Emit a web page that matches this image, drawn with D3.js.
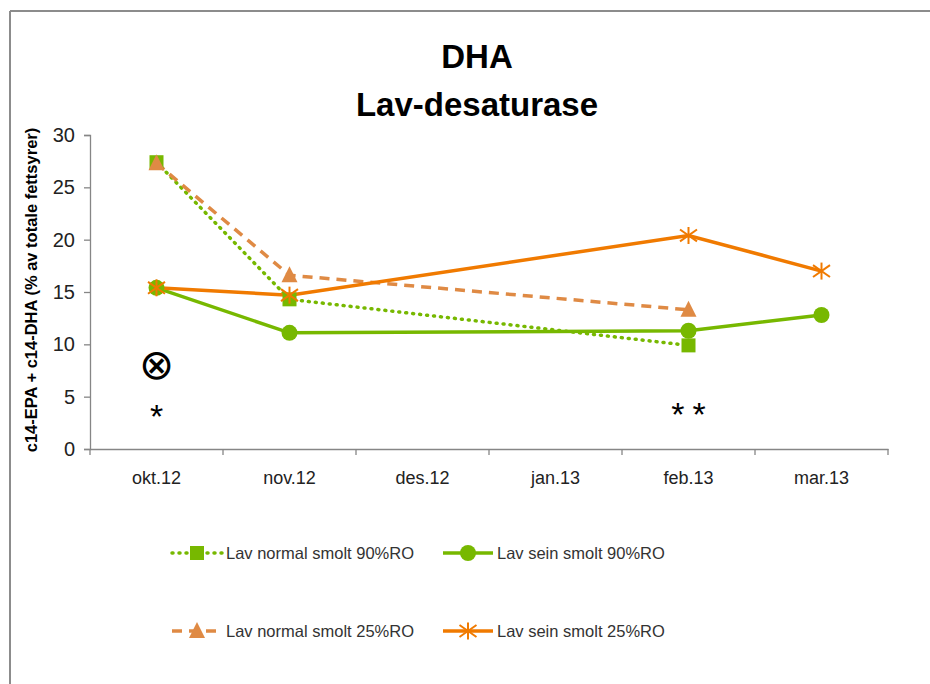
<!DOCTYPE html>
<html>
<head>
<meta charset="utf-8">
<script src="https://cdn.jsdelivr.net/npm/d3@7"></script>
<style>
  body { margin: 0; background: #fff; }
  svg { display: block; }
  text { font-family: "Liberation Sans", Arial, sans-serif; }
</style>
</head>
<body>
<div id="chart"></div>
<script>
// chart values
var months = ["okt.12", "nov.12", "des.12", "jan.13", "feb.13", "mar.13"];
var yTicks = [0, 5, 10, 15, 20, 25, 30];
var normal90 = [27.4, 14.3, null, null, 9.9, null];
var sein90 = [15.4, 11.1, null, null, 11.3, 12.8];
var normal25 = [27.3, 16.6, null, null, 13.3, null];
var sein25 = [15.4, 14.7, null, null, 20.4, 17.0];
var seriesNames = ["Lav normal smolt 90%RO", "Lav sein smolt 90%RO",
                   "Lav normal smolt 25%RO", "Lav sein smolt 25%RO"];

var green = "#77b800", orange = "#f07a00", orangeLight = "#df8a44";

var series = [
  {name: seriesNames[0], values: normal90, color: green, dash: "1,6", width: 3.5, marker: "square"},
  {name: seriesNames[1], values: sein90, color: green, dash: null, width: 3.5, marker: "circle"},
  {name: seriesNames[2], values: normal25, color: orangeLight, dash: "10,7", width: 3.5, marker: "triangle"},
  {name: seriesNames[3], values: sein25, color: orange, dash: null, width: 3.5, marker: "star"}
];

var svg = d3.select("#chart").append("svg")
  .attr("width", 930)
  .attr("height", 684);

// outer frame (only top and left edges visible in the picture)
svg.append("line").attr("x1", 10).attr("y1", 11).attr("x2", 930).attr("y2", 11)
  .style("stroke", "#8c8c8c").style("stroke-width", 2);
svg.append("line").attr("x1", 10).attr("y1", 11).attr("x2", 10).attr("y2", 684)
  .style("stroke", "#8c8c8c").style("stroke-width", 2);

var x = d3.scaleBand().domain(months).range([90, 888]);
var y = d3.scaleLinear().domain([0, 30]).range([449, 135]);

// title
svg.append("text").attr("x", 477).attr("y", 68).attr("text-anchor", "middle")
  .style("font-size", "33px").style("font-weight", "bold").text("DHA");
svg.append("text").attr("x", 477).attr("y", 116).attr("text-anchor", "middle")
  .style("font-size", "33px").style("font-weight", "bold").text("Lav-desaturase");

// axes
var yAxis = svg.append("g").attr("transform", "translate(90,0)")
  .call(d3.axisLeft(y).tickValues(yTicks).tickSize(6).tickPadding(9));
var xAxis = svg.append("g").attr("transform", "translate(0,449)")
  .call(d3.axisBottom(x).tickSize(0).tickPadding(22));

// x ticks sit on band edges, not centres
xAxis.selectAll(".edge").data(months.concat(["end"])).enter().append("line")
  .attr("class", "edge")
  .attr("x1", function(d, i) { return 90 + i * x.step(); })
  .attr("x2", function(d, i) { return 90 + i * x.step(); })
  .attr("y1", 0).attr("y2", 6);

svg.selectAll(".domain, .tick line, .edge").style("stroke", "#868686").style("stroke-width", 1.3);
svg.selectAll(".tick text").style("font-size", "18px").style("fill", "#222")
  .style("font-family", "'Liberation Sans', sans-serif");
yAxis.selectAll(".tick text").style("font-size", "20px");

// y axis title
svg.append("text")
  .attr("transform", "translate(37,290) rotate(-90)")
  .attr("text-anchor", "middle")
  .style("font-size", "16.5px").style("font-weight", "bold")
  .text("c14-EPA + c14-DHA (% av totale fettsyrer)");

function cx(i) { return x(months[i]) + x.bandwidth() / 2; }

// lines: gaps are skipped, so connect only the defined points
series.forEach(function(s) {
  var pts = s.values.map(function(v, i) { return {v: v, i: i}; })
    .filter(function(d) { return d.v != null; });
  svg.append("path")
    .datum(pts)
    .attr("d", d3.line().x(function(d) { return cx(d.i); }).y(function(d) { return y(d.v); }))
    .style("fill", "none")
    .style("stroke", s.color)
    .style("stroke-width", s.width)
    .style("stroke-dasharray", s.dash)
    .style("stroke-linecap", s.dash === "1,6" ? "round" : "butt");
});

function drawMarker(g, type, color, px, py) {
  if (type === "square") {
    g.append("rect").attr("x", px - 7).attr("y", py - 7).attr("width", 14).attr("height", 14)
      .style("fill", color);
  } else if (type === "circle") {
    g.append("circle").attr("cx", px).attr("cy", py).attr("r", 8).style("fill", color);
  } else if (type === "triangle") {
    g.append("path")
      .attr("d", "M" + px + "," + (py - 9) + "L" + (px + 8) + "," + (py + 7) + "L" + (px - 8) + "," + (py + 7) + "Z")
      .style("fill", color);
  } else if (type === "star") {
    var r = 8.5;
    var segs = [[0, -r, 0, r], [-r, -r * 0.7, r, r * 0.7], [-r, r * 0.7, r, -r * 0.7]];
    segs.forEach(function(sg) {
      g.append("line").attr("x1", px + sg[0]).attr("y1", py + sg[1])
        .attr("x2", px + sg[2]).attr("y2", py + sg[3])
        .style("stroke", color).style("stroke-width", 2);
    });
  }
}

series.forEach(function(s) {
  var g = svg.append("g");
  s.values.forEach(function(v, i) {
    if (v != null) drawMarker(g, s.marker, s.color, cx(i), y(v));
  });
});

// significance annotations
svg.append("text").attr("x", cx(0)).attr("y", 379).attr("text-anchor", "middle")
  .style("font-size", "42px").style("font-family", "'DejaVu Sans', sans-serif").text("\u2297");
svg.append("text").attr("x", cx(0)).attr("y", 428).attr("text-anchor", "middle")
  .style("font-size", "34px").text("*");
svg.append("text").attr("x", cx(4) + 4).attr("y", 426).attr("text-anchor", "middle")
  .style("font-size", "34px").style("letter-spacing", "8px").text("**");

// legend
var legendPos = [[172, 553], [443, 553], [172, 631], [443, 631]];
series.forEach(function(s, i) {
  var lx = legendPos[i][0], ly = legendPos[i][1];
  var g = svg.append("g");
  g.append("line").attr("x1", lx).attr("x2", lx + 50).attr("y1", ly).attr("y2", ly)
    .style("stroke", s.color).style("stroke-width", s.width)
    .style("stroke-dasharray", s.dash)
    .style("stroke-linecap", s.dash === "1,6" ? "round" : "butt");
  drawMarker(g, s.marker, s.color, lx + 25, ly);
  g.append("text").attr("x", lx + 54).attr("y", ly + 6)
    .style("font-size", "16.5px").style("fill", "#333")
    .text(s.name);
});
</script>
</body>
</html>
